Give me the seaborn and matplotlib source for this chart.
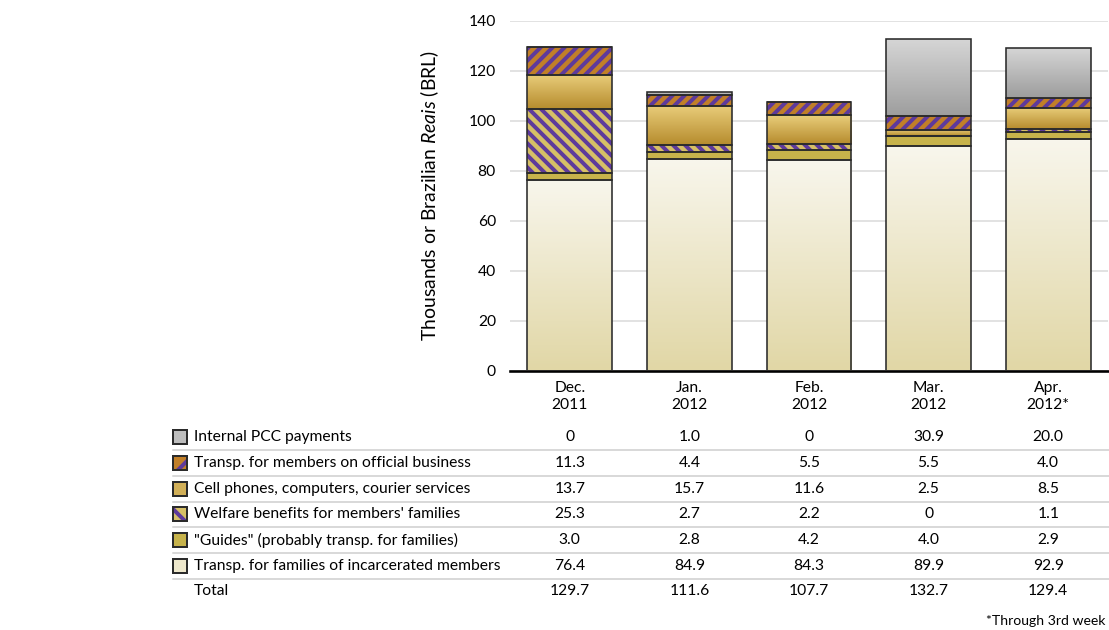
import matplotlib
import matplotlib.pyplot as plt
import numpy as np
import seaborn as sns
from matplotlib.colors import LinearSegmentedColormap
from matplotlib.lines import Line2D
from matplotlib.patches import Rectangle
from matplotlib.transforms import blended_transform_factory

matplotlib.use("Agg")

# データ (thousands of BRL)
months = ["Dec.\n2011", "Jan.\n2012", "Feb.\n2012", "Mar.\n2012", "Apr.\n2012*"]
internal_pcc = [0, 1.0, 0, 30.9, 20.0]
transp_official = [11.3, 4.4, 5.5, 5.5, 4.0]
cell_phones = [13.7, 15.7, 11.6, 2.5, 8.5]
welfare = [25.3, 2.7, 2.2, 0, 1.1]
guides = [3.0, 2.8, 4.2, 4.0, 2.9]
transp_families = [76.4, 84.9, 84.3, 89.9, 92.9]
totals = [129.7, 111.6, 107.7, 132.7, 129.4]

labels = [
    "Internal PCC payments",
    "Transp. for members on official business",
    "Cell phones, computers, courier services",
    "Welfare benefits for members' families",
    "\"Guides\" (probably transp. for families)",
    "Transp. for families of incarcerated members",
]

PURPLE = "#5e3a9c"
EDGE = "#2b2b2b"

# 下から順に積み上げ
layers = [
    (transp_families, dict(kind="grad", top="#f8f6ec", bottom="#e1d7a6")),
    (guides, dict(kind="solid", color="#c7b34b")),
    (welfare, dict(kind="hatch", color="#d6bf66", hatch="\\\\\\\\")),
    (cell_phones, dict(kind="grad", top="#e9cd7a", bottom="#b68c2e")),
    (transp_official, dict(kind="hatch", color="#c17f28", hatch="////")),
    (internal_pcc, dict(kind="grad", top="#d6d6d6", bottom="#9e9e9e")),
]

sns.set_theme(style="white")
plt.rcParams["font.family"] = ["Lato", "DejaVu Sans"]
plt.rcParams["mathtext.fontset"] = "custom"
plt.rcParams["mathtext.rm"] = "Lato"
plt.rcParams["mathtext.it"] = "Lato:italic"
plt.rcParams["hatch.linewidth"] = 2.0

W, H = 1109, 630
fig = plt.figure(figsize=(W / 144, H / 144), dpi=144)
ax = fig.add_axes([510 / W, 1 - 371 / H, 598 / W, 350 / H])

bottom = np.zeros(len(months))
for vals, st in layers:
    vals = np.array(vals, dtype=float)
    common = dict(x=months, y=vals, bottom=bottom.copy(), width=0.71,
                  errorbar=None, saturation=1, ax=ax)
    if st["kind"] == "grad":
        sns.barplot(**common, color="white", facecolor="none", edgecolor="none",
                    linewidth=0, zorder=2)
        cmap = LinearSegmentedColormap.from_list("g", [st["bottom"], st["top"]])
        grad = np.linspace(0, 1, 64).reshape(-1, 1)
        for bar in ax.containers[-1]:
            x0, y0 = bar.get_xy()
            w, h = bar.get_width(), bar.get_height()
            if h <= 0:
                continue
            im = ax.imshow(grad, cmap=cmap, origin="lower", aspect="auto",
                           extent=[x0, x0 + w, y0, y0 + h], zorder=1.5,
                           interpolation="bilinear")
            im.set_clip_path(bar)
    elif st["kind"] == "hatch":
        sns.barplot(**common, color=st["color"], edgecolor=PURPLE, linewidth=0,
                    hatch=st["hatch"], zorder=2)
    else:
        sns.barplot(**common, color=st["color"], edgecolor="none", linewidth=0, zorder=2)
    # 枠線
    sns.barplot(**common, color="white", facecolor="none", edgecolor=EDGE,
                linewidth=0.8, zorder=3)
    bottom += vals

ax.set_xlim(-0.5, 4.5)
ax.set_ylim(0, 140)
ax.set_yticks(range(0, 141, 20))
ax.yaxis.grid(True, color="#e2e2e2", linewidth=1.0)
ax.set_axisbelow(True)
for side in ["top", "right", "left"]:
    ax.spines[side].set_visible(False)
ax.spines["bottom"].set_color("black")
ax.spines["bottom"].set_linewidth(1.3)
ax.tick_params(axis="both", length=0, labelsize=7.8, labelcolor="black")
ax.tick_params(axis="y", pad=7)
ax.tick_params(axis="x", pad=5)
for t in ax.get_xticklabels():
    t.set_linespacing(1.25)
ax.set_xlabel("")
ax.set_ylabel("Thousands or Brazilian $\\mathit{Reais}$ (BRL)", fontsize=9.7, color="black",
              labelpad=14)

# 表
row_y = [437, 463, 489, 514, 540, 566, 591]
rows = [internal_pcc, transp_official, cell_phones, welfare, guides, transp_families, totals]
swatches = [layers[5][1], layers[4][1], layers[3][1], layers[2][1], layers[1][1], layers[0][1]]
tr = blended_transform_factory(ax.transData, fig.transFigure)

for i, (yp, vals) in enumerate(zip(row_y, rows)):
    yf = 1 - yp / H
    name = labels[i] if i < len(labels) else "Total"
    fig.text(194 / W, yf, name, ha="left", va="center", fontsize=7.8, color="black")
    for j, v in enumerate(vals):
        s = "0" if v == 0 else f"{v:.1f}"
        ax.text(j, yf, s, transform=tr, ha="center", va="center", fontsize=7.8,
                color="black", clip_on=False)
    if i < len(swatches):
        st = swatches[i]
        if st["kind"] == "grad":
            fc = LinearSegmentedColormap.from_list("g", [st["bottom"], st["top"]])(0.55)
        else:
            fc = st["color"]
        fig.add_artist(Rectangle((173 / W, yf - 7 / H), 14 / W, 14 / H,
                                 transform=fig.transFigure, facecolor=fc,
                                 edgecolor="none", linewidth=0))
        if st["kind"] == "hatch":
            fig.add_artist(Rectangle((173 / W, yf - 7 / H), 14 / W, 14 / H,
                                     transform=fig.transFigure, facecolor="none",
                                     edgecolor=PURPLE, linewidth=0, hatch=st["hatch"][:2]))
        fig.add_artist(Rectangle((173 / W, yf - 7 / H), 14 / W, 14 / H,
                                 transform=fig.transFigure, facecolor="none",
                                 edgecolor=EDGE, linewidth=1.0))
        sep = 1 - (yp + 13) / H
        fig.add_artist(Line2D([173 / W, 1.0], [sep, sep], transform=fig.transFigure,
                              color="#d9d9d9", linewidth=1.0))

fig.text(1105 / W, 1 - 621 / H, "*Through 3rd week", ha="right", va="center",
         fontsize=7, color="black")

fig.savefig("out.png", dpi=144)
plt.close(fig)
